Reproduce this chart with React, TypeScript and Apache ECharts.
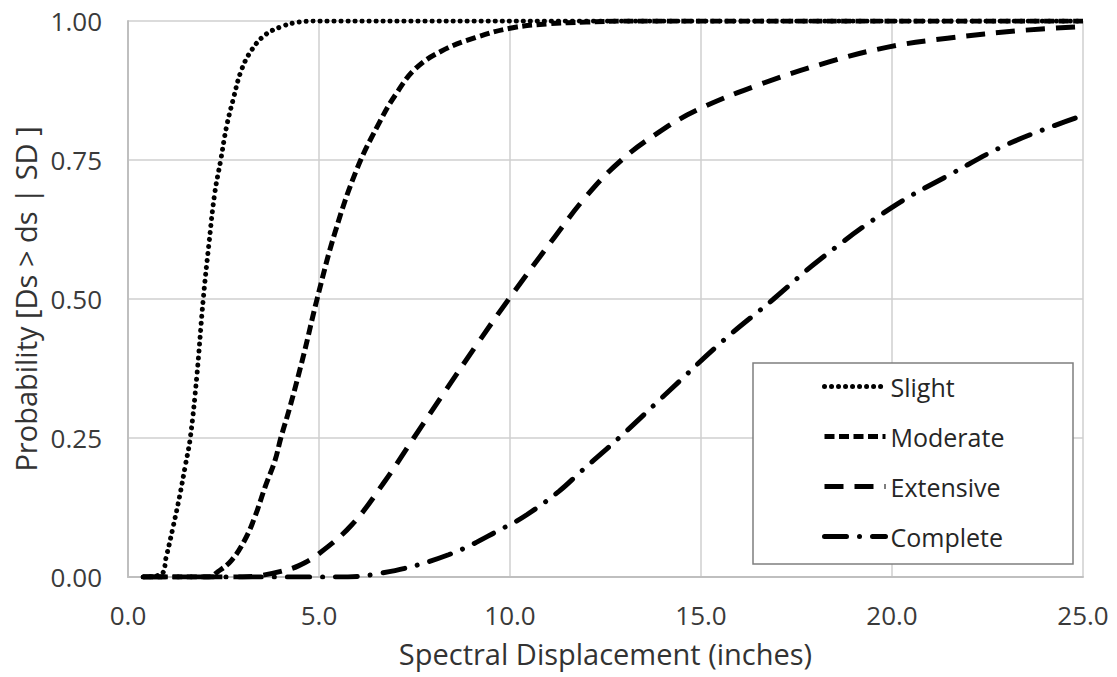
import React, { useEffect, useRef } from "react";
import * as echarts from "echarts";

const seriesNames = ["Slight", "Moderate", "Extensive", "Complete"];

const slightX = [0.4, 0.87, 1.0, 1.18, 1.35, 1.5, 1.63, 1.8, 1.97, 2.12, 2.27, 2.43, 2.58, 2.75, 2.97, 3.24, 3.59, 4.02, 4.46, 5.0, 25];
const slightP = [0, 0.005, 0.036, 0.09, 0.145, 0.2, 0.25, 0.36, 0.5, 0.6, 0.69, 0.751, 0.81, 0.858, 0.912, 0.948, 0.975, 0.99, 0.998, 1.0, 1.0];

const moderateX = [0.4, 2.1, 2.36, 2.71, 3.06, 3.32, 3.59, 3.85, 4.0, 4.24, 4.6, 4.95, 5.42, 6.0, 6.6, 7.0, 7.52, 8.21, 9.09, 10.0, 11, 12, 13, 25];
const moderateP = [0, 0, 0.01, 0.03, 0.067, 0.108, 0.162, 0.21, 0.25, 0.306, 0.4, 0.5, 0.62, 0.735, 0.82, 0.867, 0.914, 0.946, 0.97, 0.987, 0.995, 0.998, 1.0, 1.0];

const extensiveX = [0.4, 3.0, 3.5, 4.0, 4.46, 4.98, 5.86, 6.7, 7.48, 8.31, 9.1, 9.97, 11.1, 12.0, 12.92, 13.9, 14.9, 16.5, 18.33, 19.89, 21.45, 23.4, 25];
const extensiveP = [0, 0, 0.003, 0.01, 0.02, 0.041, 0.094, 0.17, 0.25, 0.335, 0.415, 0.5, 0.605, 0.685, 0.75, 0.8, 0.84, 0.885, 0.926, 0.953, 0.969, 0.983, 0.99];

const completeX = [0.4, 5.33, 6.64, 8.39, 9.88, 10.44, 11.28, 11.86, 12.85, 14.17, 15.58, 16.9, 18.13, 19.98, 21.55, 23.11, 25];
const completeP = [0, 0, 0.007, 0.04, 0.09, 0.112, 0.154, 0.19, 0.25, 0.335, 0.425, 0.5, 0.572, 0.664, 0.725, 0.781, 0.83];

const xAxisName = "Spectral Displacement (inches)";
const yAxisName = "Probability [Ds > ds | SD ]";

const zip = (xs: number[], ys: number[]) => xs.map((x, i) => [x, ys[i]]);

const FONT = "'Open Sans', sans-serif";

export default function App() {
  const ref = useRef<HTMLDivElement>(null);
  useEffect(() => {
    const chart = echarts.init(ref.current!, null, { renderer: "svg" });
    const lineBase = (name: string, data: number[][], lineStyle: any) => ({
      name,
      type: "line",
      data,
      symbol: "none",
      showSymbol: false,
      smooth: 0.4,
      lineStyle: { color: "#000", width: 5, ...lineStyle },
      itemStyle: { color: "#000" },
      z: 2,
    });
    chart.setOption({
      animation: false,
      backgroundColor: "#fff",
      textStyle: { fontFamily: FONT },
      grid: { left: 128, right: 34, top: 21, bottom: 100, containLabel: false },
      xAxis: {
        type: "value",
        min: 0,
        max: 25,
        interval: 5,
        name: xAxisName,
        nameLocation: "middle",
        nameGap: 62,
        nameTextStyle: { fontSize: 29, color: "#333", fontFamily: FONT },
        axisLine: { show: true, lineStyle: { color: "#bfbfbf", width: 2 } },
        axisTick: { show: false },
        axisLabel: {
          margin: 25,
          fontSize: 26,
          color: "#3a3a3a",
          fontFamily: FONT,
          formatter: (v: number) => v.toFixed(1),
        },
        splitLine: { show: true, lineStyle: { color: "#cfcfcf", width: 1.5 } },
      },
      yAxis: {
        type: "value",
        min: 0,
        max: 1,
        interval: 0.25,
        name: yAxisName,
        nameLocation: "middle",
        nameGap: 86,
        nameTextStyle: { fontSize: 29, color: "#333", fontFamily: FONT },
        axisLine: { show: true, lineStyle: { color: "#bfbfbf", width: 2 } },
        axisTick: { show: false },
        axisLabel: {
          margin: 26,
          fontSize: 26,
          color: "#3a3a3a",
          fontFamily: FONT,
          formatter: (v: number) => v.toFixed(2),
        },
        splitLine: { show: true, lineStyle: { color: "#cfcfcf", width: 1.5 } },
      },
      graphic: [
        {
          type: "rect",
          z: 3,
          shape: { x: 753, y: 363, width: 320, height: 201 },
          style: { fill: "#fff", stroke: "#7f7f7f", lineWidth: 1.5 },
        },
      ],
      legend: {
        orient: "vertical",
        left: 822,
        top: 374,
        padding: 0,
        itemWidth: 61,
        itemHeight: 14,
        itemGap: 25,
        z: 4,
        itemStyle: { opacity: 0, color: "transparent", borderWidth: 0 },
        lineStyle: { width: 5 },
        textStyle: { fontSize: 25, lineHeight: 24, color: "#262626", fontFamily: FONT },
        data: seriesNames,
      },
      series: [
        lineBase(seriesNames[0], zip(slightX, slightP), { type: [0.01, 7], cap: "round", width: 5 }),
        lineBase(seriesNames[1], zip(moderateX, moderateP), { type: [10, 4.5], cap: "butt" }),
        lineBase(seriesNames[2], zip(extensiveX, extensiveP), { type: [19, 11], cap: "butt" }),
        lineBase(seriesNames[3], zip(completeX, completeP), { type: [22, 13, 0.01, 13], cap: "round" }),
      ],
    });
    return () => chart.dispose();
  }, []);
  return <div ref={ref} style={{ position: "fixed", left: 0, top: 0, width: 1117, height: 677 }} />;
}
